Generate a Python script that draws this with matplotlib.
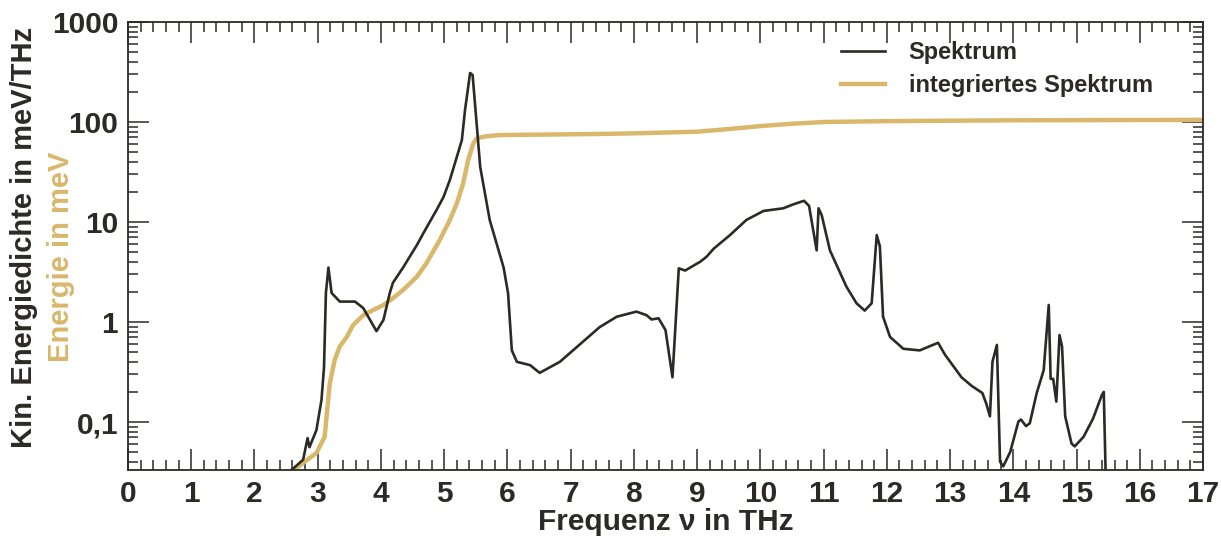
import numpy as np
from matplotlib import pyplot as plt
from matplotlib.ticker import MultipleLocator, LogLocator, FixedLocator, FuncFormatter

plt.rcParams['font.family'] = ['Liberation Sans', 'DejaVu Sans']
plt.rcParams['font.weight'] = 'bold'

dark = '#2b2a25'
gold = '#d9b86c'

# Spektrum (black)
freq_spek = [2.56, 2.77, 2.84, 2.87, 2.98, 3.06, 3.10, 3.13, 3.17, 3.22, 3.35, 3.59, 3.72,
             3.93, 4.04, 4.14, 4.19, 4.35, 4.57, 4.67, 4.88, 4.99, 5.09, 5.20, 5.28, 5.33,
             5.41, 5.45, 5.57, 5.72, 5.94,
             6.01, 6.07, 6.15, 6.36, 6.51, 6.83, 7.46, 7.73, 8.04, 8.20, 8.28, 8.39, 8.50,
             8.61, 8.71, 8.81, 9.05, 9.15, 9.26, 9.52, 9.78, 10.05, 10.36, 10.52, 10.69,
             10.77, 10.89, 10.92, 10.97, 11.10, 11.36, 11.52, 11.65, 11.76, 11.84, 11.89,
             11.94, 12.05, 12.26, 12.52, 12.81, 12.92, 13.18, 13.34, 13.51, 13.57, 13.63,
             13.67, 13.74, 13.79, 13.84, 13.95, 14.08, 14.12, 14.20, 14.26, 14.37, 14.48,
             14.56, 14.59, 14.63, 14.68, 14.73, 14.77, 14.82, 14.92, 14.97, 15.11, 15.26,
             15.40, 15.43, 15.46]
spek = [0.032, 0.042, 0.069, 0.056, 0.083, 0.166, 0.35, 1.95, 3.5, 1.95, 1.6, 1.6, 1.38,
        0.81, 1.05, 1.95, 2.47, 3.5, 5.9, 7.7, 13.2, 17.8, 26.3, 44.7, 66, 132,
        309, 295, 35.5, 10.5, 3.5,
        1.95, 0.52, 0.40, 0.37, 0.31, 0.40, 0.89, 1.13, 1.27, 1.17, 1.06, 1.09, 0.83,
        0.28, 3.44, 3.27, 4.01, 4.5, 5.4, 7.4, 10.5, 12.9, 13.7, 15.0, 16.3,
        14.5, 5.2, 13.7, 11.7, 5.2, 2.26, 1.54, 1.30, 1.54, 7.4, 5.7,
        1.13, 0.71, 0.54, 0.52, 0.62, 0.47, 0.28, 0.23, 0.195, 0.154, 0.114,
        0.40, 0.59, 0.040, 0.036, 0.050, 0.101, 0.106, 0.091, 0.097, 0.195, 0.33,
        1.48, 0.27, 0.27, 0.16, 0.74, 0.57, 0.114, 0.061, 0.057, 0.071, 0.108,
        0.186, 0.20, 0.03]

# integriertes Spektrum (gold)
freq_int = [2.56, 2.98, 3.11, 3.19, 3.27, 3.35, 3.46, 3.56, 3.72, 3.88, 4.04, 4.19, 4.35,
            4.57, 4.72, 4.93, 5.09, 5.20, 5.30, 5.38, 5.46, 5.51, 5.57, 5.67, 5.88, 7.46,
            8.0, 9.0, 9.5, 10.0, 10.5, 11.0, 12.0, 14.0, 17.0]
integ = [0.031, 0.049, 0.071, 0.24, 0.42, 0.57, 0.71, 0.93, 1.17, 1.32, 1.48, 1.73, 2.09,
         2.84, 3.87, 6.6, 10.5, 15.3, 24.3, 41.7, 61, 68, 70, 72, 74, 75.9,
         77, 80, 85, 91, 96, 100, 102, 104, 105]

ytick_vals = [0.1, 1, 10, 100, 1000]
ytick_labels = ['0,1', '1', '10', '100', '1000']

fig = plt.figure(figsize=(12.21, 5.43), dpi=100)
ax = fig.add_axes([0.1048, 0.1344, 0.8805, 0.8251])

ax.plot(freq_spek, spek, color=dark, lw=1.9, label='Spektrum', zorder=3)
ax.plot(freq_int, integ, color=gold, lw=3.2, label='integriertes Spektrum', zorder=2)

ax.set_yscale('log')
ax.set_xlim(0, 17)
ax.set_ylim(0.0331, 1000)

ax.xaxis.set_major_locator(MultipleLocator(1))
ax.xaxis.set_minor_locator(MultipleLocator(0.2))
ax.yaxis.set_major_locator(FixedLocator(ytick_vals))
ax.yaxis.set_minor_locator(LogLocator(base=10, subs=np.arange(2, 10)))
ax.yaxis.set_major_formatter(FuncFormatter(lambda v, p: dict(zip(ytick_vals, ytick_labels)).get(v, '')))
ax.yaxis.set_minor_formatter(FuncFormatter(lambda v, p: ''))

ax.tick_params(which='both', direction='in', top=True, right=True, colors=dark, width=1.1)
ax.tick_params(which='major', length=15, labelsize=21.5, pad=7)
ax.tick_params(which='minor', length=7.5)
for lab in ax.get_xticklabels() + ax.get_yticklabels():
    lab.set_fontweight('bold')
for s in ax.spines.values():
    s.set_color(dark)
    s.set_linewidth(1.3)

ax.set_xlabel('Frequenz ν in THz', fontsize=21.5, fontweight='bold', color=dark, labelpad=0)

fig.text(0.020, 0.563, 'Kin. Energiedichte in meV/THz', rotation=90, ha='center', va='center',
         fontsize=21, fontweight='bold', color=dark)
fig.text(0.050, 0.527, 'Energie in meV', rotation=90, ha='center', va='center',
         fontsize=21, fontweight='bold', color=gold)

leg = ax.legend(loc='upper right', bbox_to_anchor=(0.973, 1.005), frameon=False,
                prop={'size': 17, 'weight': 'bold'}, handlelength=1.85, handletextpad=1.0,
                labelspacing=0.42)
for t in leg.get_texts():
    t.set_color(dark)

fig.savefig('out.png', dpi=100)
